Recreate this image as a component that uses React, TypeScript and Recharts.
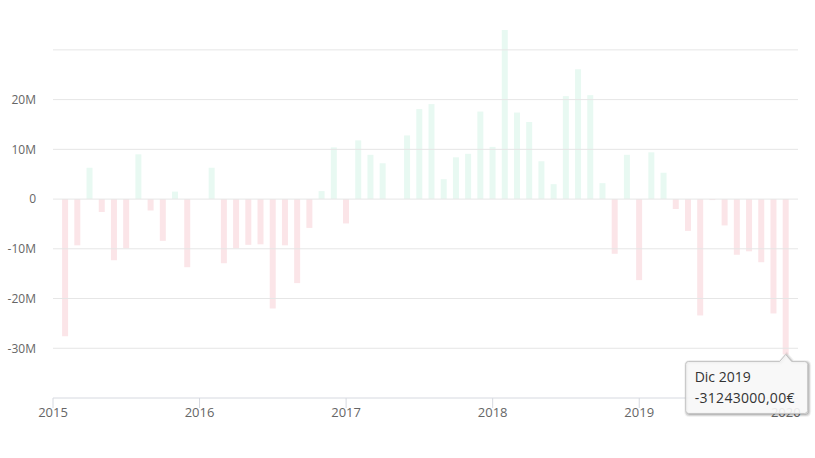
import React from 'react';
import { BarChart, Bar, XAxis, YAxis, ReferenceLine, Cell, LabelList } from 'recharts';

const MONTHS = ['Ene', 'Feb', 'Mar', 'Abr', 'May', 'Jun', 'Jul', 'Ago', 'Sep', 'Oct', 'Nov', 'Dic'];
const YEARS = [2015, 2016, 2017, 2018, 2019];
const YEAR_TICK_LABELS = ['2015', '2016', '2017', '2018', '2019', '2020'];

// monthly net values, millions of euros
const VALUES_2015 = [-27.6, -9.3, 6.3, -2.6, -12.3, -9.9, 9.0, -2.3, -8.4, 1.5, -13.7, 0];
const VALUES_2016 = [6.3, -12.9, -9.9, -9.2, -9.1, -22.0, -9.3, -16.9, -5.8, 1.6, 10.4, -4.9];
const VALUES_2017 = [11.8, 8.9, 7.2, 0, 12.8, 18.1, 19.1, 4.0, 8.4, 9.1, 17.6, 10.5];
const VALUES_2018 = [34.0, 17.4, 15.5, 7.6, 3.0, 20.7, 26.1, 20.9, 3.2, -11.0, 8.9, -16.3];
const VALUES_2019 = [9.4, 5.3, -2.0, -6.4, -23.4, -0.2, -5.3, -11.2, -10.5, -12.7, -23.0, -31.243];
const SERIES = [VALUES_2015, VALUES_2016, VALUES_2017, VALUES_2018, VALUES_2019];

const Y_TICKS_M = [-40, -30, -20, -10, 0, 10, 20, 30];
const GRID_M = [-30, -20, -10, 0, 10, 20, 30];
const Y_DOMAIN_M = [-40, 34.2];
const X_TICKS = [0, 12, 24, 36, 48, 60];
const TIP_LABEL = 'Dic 2019';

const POS_COLOR = '#e8f9f2';
const NEG_COLOR = '#fbe5e8';

type Row = { pos: number; label: string; value: number; tip: string | null };

const data: Row[] = YEARS.flatMap((y, yi) =>
  SERIES[yi].map((v, m) => {
    const label = `${MONTHS[m]} ${y}`;
    return {
      pos: yi * 12 + m + 1,
      label,
      value: Math.round(v * 1e6),
      tip: label === TIP_LABEL ? label : null,
    };
  })
);

const fmtEuro = (v: number) => v.toFixed(2).replace('.', ',') + '€';

const fmtY = (v: number) => {
  const m = v / 1e6;
  if (m === 30 || m === -40) return '';
  if (m === 0) return '0';
  return `${m}M`;
};

const fmtX = (v: number) => {
  const i = X_TICKS.indexOf(v);
  return i >= 0 ? YEAR_TICK_LABELS[i] : '';
};

const TipBox = (props: any) => {
  const val = props.value;
  if (!val) return null;
  const vb = props.viewBox || props;
  const x = Number(vb.x ?? props.x);
  const y = Number(vb.y ?? props.y);
  const w = Number(vb.width ?? props.width);
  const h = Number(vb.height ?? props.height);
  const row = data.find((d) => d.label === val);
  if (!row) return null;
  const cx = x + w / 2;
  const tipY = Math.max(y, y + h);
  const left = cx - 100;
  const top = tipY + 7;
  const bw = 122;
  const bh = 52;
  const r = 3;
  const right = left + bw;
  const bottom = top + bh;
  const d = [
    `M ${left + r} ${top}`,
    `L ${cx - 6} ${top}`,
    `L ${cx} ${tipY}`,
    `L ${cx + 6} ${top}`,
    `L ${right - r} ${top}`,
    `Q ${right} ${top} ${right} ${top + r}`,
    `L ${right} ${bottom - r}`,
    `Q ${right} ${bottom} ${right - r} ${bottom}`,
    `L ${left + r} ${bottom}`,
    `Q ${left} ${bottom} ${left} ${bottom - r}`,
    `L ${left} ${top + r}`,
    `Q ${left} ${top} ${left + r} ${top}`,
    'Z',
  ].join(' ');
  return (
    <g>
      <path d={d} transform="translate(1,1)" fill="none" stroke="#000" strokeOpacity={0.05} strokeWidth={5} />
      <path d={d} transform="translate(1,1)" fill="none" stroke="#000" strokeOpacity={0.1} strokeWidth={3} />
      <path d={d} transform="translate(1,1)" fill="none" stroke="#000" strokeOpacity={0.15} strokeWidth={1} />
      <path d={d} fill="rgba(247,247,247,0.9)" stroke="#c4c4c4" strokeWidth={1} />
      <text x={left + 9} y={top + 21} fontSize={14} fill="#333" fontFamily="Open Sans">
        {row.label}
      </text>
      <text x={left + 9} y={top + 42} fontSize={14} fill="#333" fontFamily="Open Sans" letterSpacing={0.3}>
        {fmtEuro(row.value)}
      </text>
    </g>
  );
};

export default function App() {
  return (
    <div
      style={{
        position: 'absolute',
        left: 0,
        top: 0,
        width: 815,
        height: 458,
        background: '#fff',
        fontFamily: '"Open Sans", sans-serif',
      }}
    >
      <BarChart
        width={815}
        height={458}
        data={data}
        margin={{ top: 29, right: 17, bottom: 30, left: 0 }}
      >
        {GRID_M.map((v) => (
          <ReferenceLine key={v} y={v * 1e6} stroke="#e6e6e6" strokeWidth={1} />
        ))}
        <YAxis
          type="number"
          domain={Y_DOMAIN_M.map((v) => v * 1e6)}
          ticks={Y_TICKS_M.map((v) => v * 1e6)}
          tickFormatter={fmtY}
          axisLine={false}
          tickLine={false}
          tickSize={0}
          tickMargin={17}
          width={53}
          allowDataOverflow
          tick={{ fontSize: 12, fill: '#666', fontFamily: 'Open Sans' }}
        />
        <XAxis
          dataKey="pos"
          type="number"
          domain={[0, 61]}
          ticks={X_TICKS}
          tickFormatter={fmtX}
          stroke="#d6d9e0"
          tickSize={10}
          tickMargin={0}
          height={30}
          interval={0}
          tick={{ fontSize: 13, fill: '#666', fontFamily: 'Open Sans' }}
        />
        <Bar dataKey="value" barSize={6} isAnimationActive={false}>
          {data.map((d, i) => (
            <Cell key={i} fill={d.value < 0 ? NEG_COLOR : POS_COLOR} />
          ))}
          <LabelList dataKey="tip" content={TipBox} />
        </Bar>
      </BarChart>
    </div>
  );
}
